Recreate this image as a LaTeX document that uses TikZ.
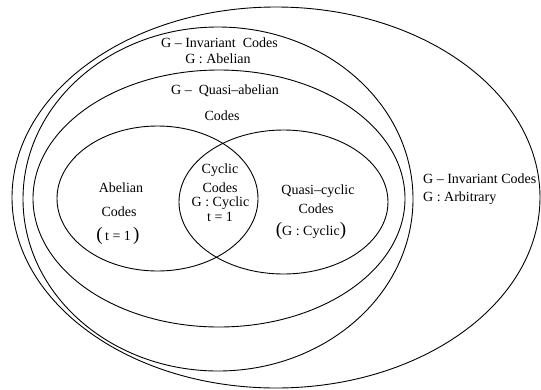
\documentclass[tikz,border=0pt]{standalone}
\usepackage{fontspec}
\setmainfont{Liberation Serif}
\begin{document}
\begin{tikzpicture}[x=1pt, y=-1pt,
    set/.style   = {draw=black, line width=0.9pt},
    lbl/.style   = {inner sep=0pt, font=\fontsize{14}{16}\selectfont},
    paren/.style = {font=\fontsize{19}{19}\selectfont}
  ]
    \useasboundingbox (0,0) rectangle (541,389);

    % nested sets
    \draw[set] (276,197.5) ellipse [x radius=264pt,   y radius=190.5pt]; % G arbitrary
    \draw[set] (218,199)   ellipse [x radius=195pt,   y radius=172pt];   % G abelian
    \draw[set] (219,198.5) ellipse [x radius=186pt,   y radius=128.5pt]; % quasi-abelian
    \draw[set] (157.5,198.5) ellipse [x radius=100.5pt, y radius=72.5pt]; % abelian
    \draw[set] (283.5,202) ellipse [x radius=104.5pt, y radius=72pt];    % quasi-cyclic

    % labels
    \node[lbl] (invab)  at (219.5,43) {G – Invariant\ \ Codes};
    \node[lbl] (gab)    at (218,59)   {G : Abelian};
    \node[lbl] (qab)    at (225,91)   {G –\ \ Quasi–abelian};
    \node[lbl] (qabc)   at (222,116)  {Codes};

    \node[lbl] (abel)   at (121,188)  {Abelian};
    \node[lbl] (abelc)  at (119,212)  {Codes};
    \node[lbl] (abelt)  at (118,236)  {{\fontsize{19}{19}\selectfont(}\,t = 1\,{\fontsize{19}{19}\selectfont)}};

    \node[lbl] (cyc)    at (220,170)  {Cyclic};
    \node[lbl] (cycc)   at (220,188)  {Codes};
    \node[lbl] (cycg)   at (220.5,203) {G : Cyclic};
    \node[lbl] (cyct)   at (220,217)  {t = 1};

    \node[lbl] (qcyc)   at (318,191)  {Quasi–cyclic};
    \node[lbl] (qcycc)  at (316,209)  {Codes};
    \node[lbl] (qcycg)  at (311,231)  {{\fontsize{19}{19}\selectfont(}G : Cyclic{\fontsize{19}{19}\selectfont)}};

    \node[lbl, anchor=west] (invar) at (423,179) {G – Invariant Codes};
    \node[lbl, anchor=west] (garb)  at (423,198) {G : Arbitrary};
  \end{tikzpicture}
\end{document}
